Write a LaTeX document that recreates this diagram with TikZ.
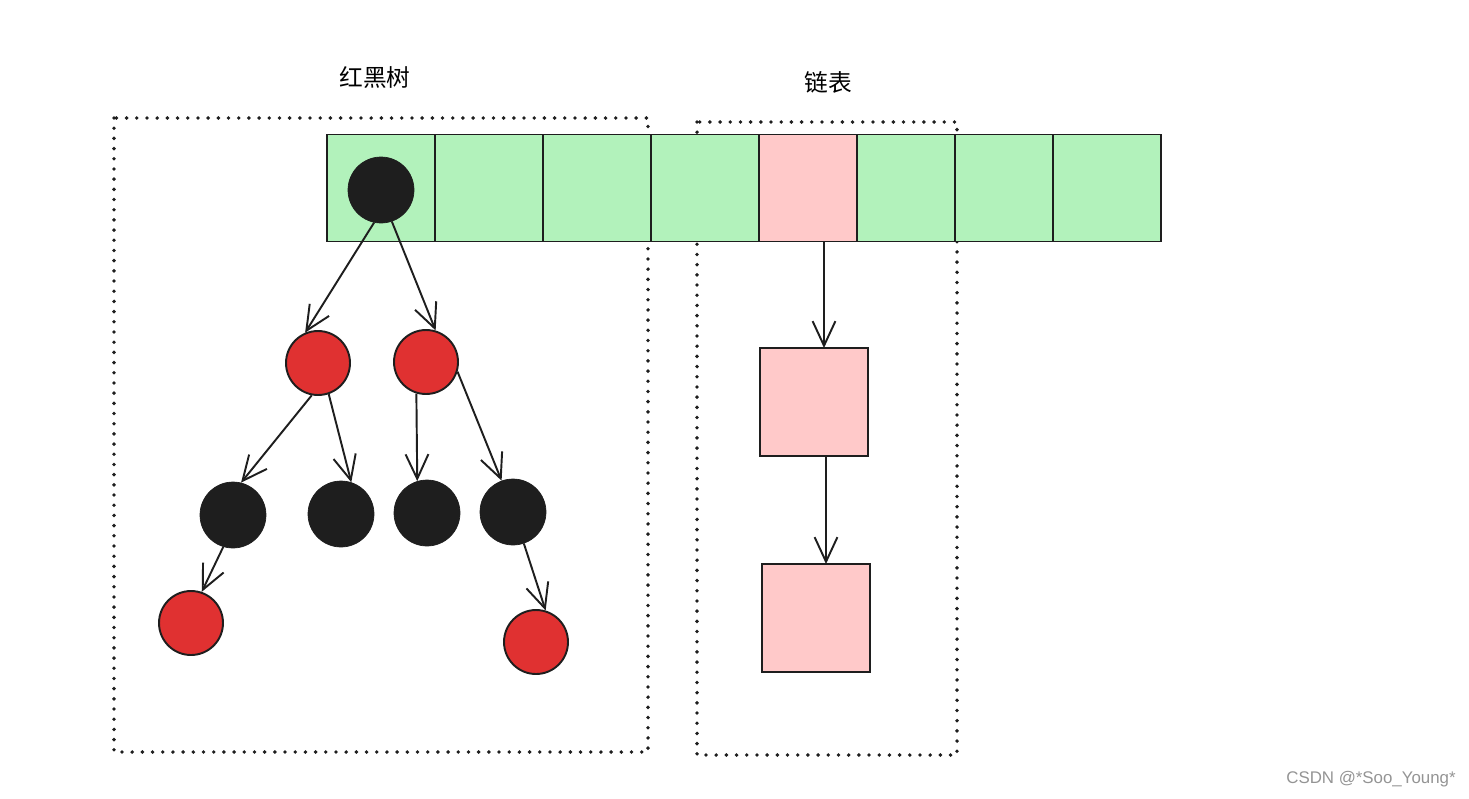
\documentclass[tikz,border=0pt]{standalone}
\usepackage{fontspec}
\setmainfont{Liberation Sans}
\newfontfamily\cjkfont{Noto Sans CJK SC}
\usepackage{tikz}
\usetikzlibrary{positioning, arrows.meta, shapes}
\definecolor{strokeblack}{HTML}{1E1E1E}
\definecolor{nodered}{HTML}{E03131}
\definecolor{cellgreen}{HTML}{B2F2BB}
\definecolor{cellpink}{HTML}{FFC9C9}
\tikzstyle{gcell} = [rectangle, draw=strokeblack, fill=cellgreen, line width=1.1pt,
minimum width=2.16cm, minimum height=2.14cm, outer sep=0pt]
\tikzstyle{pcell} = [rectangle, draw=strokeblack, fill=cellpink, line width=1.1pt,
minimum width=1.96cm, minimum height=2.14cm, outer sep=0pt]
\tikzstyle{lbox} = [rectangle, draw=strokeblack, fill=cellpink, line width=1.1pt,
minimum width=2.16cm, minimum height=2.16cm, outer sep=0pt]
\tikzstyle{blknode} = [circle, draw=strokeblack, fill=strokeblack, minimum size=1.32cm, inner sep=0pt]
\tikzstyle{rednode} = [circle, draw=strokeblack, fill=nodered, line width=1.1pt, minimum size=1.28cm, inner sep=0pt]
\tikzstyle{groupbox} = [draw=strokeblack, line width=2.2pt, line cap=round, dash pattern=on 0pt off 5.8pt]
\tikzstyle{arrow} = [draw=strokeblack, line width=1.1pt, -{Straight Barb[length=14pt,width=13pt,line width=1.1pt]}]

\begin{document}
\begin{tikzpicture}[x=0.02cm, y=-0.02cm]
                \useasboundingbox (0,0) rectangle (1469,798);
                % titles
                \node (t1) at (375,78) {\cjkfont\fontsize{13.5}{16}\selectfont 红黑树};
                \node (t2) at (828,82) {\cjkfont\fontsize{13.5}{16}\selectfont 链表};
                % group frames
                \draw [groupbox] (114,118) rectangle (648,752);
                \draw [groupbox] (697,122) rectangle (957,755);
                % array
                \node (c1) [gcell] at (381,188) {};
                \node (c2) [gcell, right=0pt of c1] {};
                \node (c3) [gcell, right=0pt of c2] {};
                \node (c4) [gcell, right=0pt of c3] {};
                \node (c5) [pcell, right=0pt of c4] {};
                \node (c6) [pcell, fill=cellgreen, right=0pt of c5] {};
                \node (c7) [pcell, fill=cellgreen, right=0pt of c6] {};
                \node (c8) [gcell, right=0pt of c7] {};
                % red-black tree
                \node (n1) [blknode] at (381,190) {};
                \node (n2) [rednode] at (318,363) {};
                \node (n3) [rednode] at (426,362) {};
                \node (n4) [blknode] at (233,515) {};
                \node (n5) [blknode] at (341,514) {};
                \node (n6) [blknode] at (427,513) {};
                \node (n7) [blknode] at (513,512) {};
                \node (n8) [rednode] at (191,623) {};
                \node (n9) [rednode] at (536,642) {};
                \draw [arrow] (n1.258) -- (n2.113);
                \draw [arrow] (n1.289) -- (n3.73);
                \draw [arrow] (n2.259) -- (n4.76);
                \draw [arrow] (n2.289) -- (n5.72);
                \draw [arrow] (n3.253) -- (n6.107);
                \draw [arrow] (n3.343) -- (n7.110);
                \draw [arrow] (n4.253) -- (n8.71);
                \draw [arrow] (n7.289) -- (n9.73);
                % linked list
                \node (l1) [lbox] at (814,402) {};
                \node (l2) [lbox] at (816,618) {};
                \draw [arrow] (c5.south -| 824,0) -- (824,0 |- l1.north);
                \draw [arrow] (l1.south -| 826,0) -- (826,0 |- l2.north);
                % watermark
                \node (wm) [text=black!42, font=\fontsize{9.6}{12}\selectfont] at (1371,779) {CSDN @*Soo\_Young*};
        \end{tikzpicture}
\end{document}
